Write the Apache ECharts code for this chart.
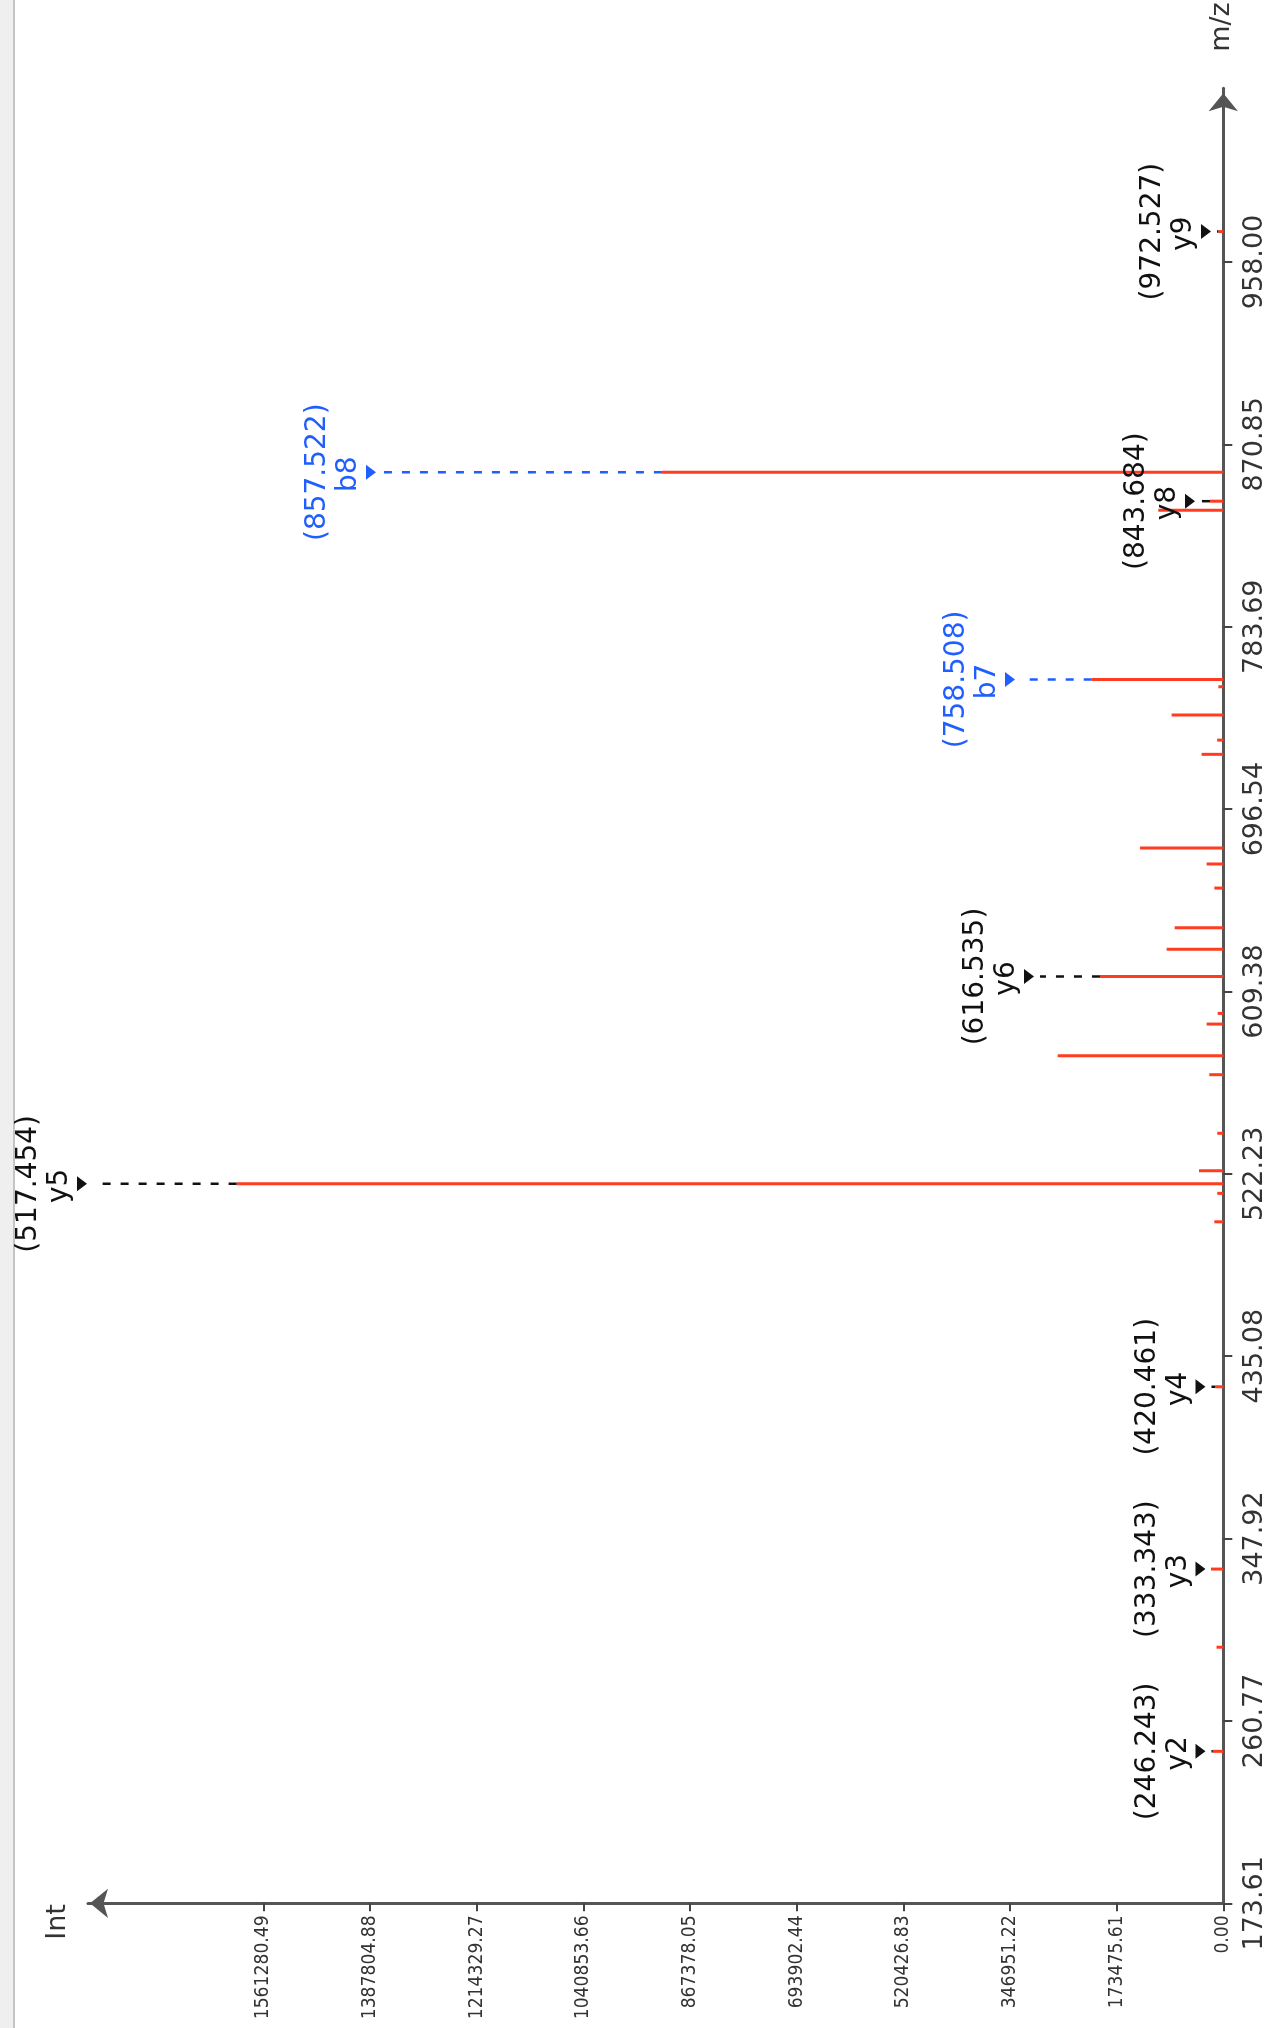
<!DOCTYPE html>
<html><head><meta charset="utf-8">
<script src="https://cdn.jsdelivr.net/npm/echarts@6/dist/echarts.min.js"></script>
<style>html,body{margin:0;padding:0;background:#fff}#c{width:1276px;height:2028px}</style>
</head><body><div id="c"></div>
<script>
// ---- data ----
const mzTickLabels = ['173.61','260.77','347.92','435.08','522.23','609.38','696.54','783.69','870.85','958.00'];
const intTickLabels = ['0.00','173475.61','346951.22','520426.83','693902.44','867378.05','1040853.66','1214329.27','1387804.88','1561280.49'];
const peakMz  = [246.243, 296.0, 333.343, 420.461, 499.3, 512.9, 517.454, 523.7, 541.6, 569.6, 578.7, 593.8, 598.9, 616.535, 629.5, 639.8, 658.8, 670.3, 677.9, 722.7, 729.5, 741.5, 755.0, 758.508, 839.3, 843.684, 857.522, 972.527];
const peakInt = [17000, 11000, 20000, 13000, 14600, 9800, 1604700, 39500, 9800, 22800, 269300, 27100, 9200, 200600, 92100, 79100, 14600, 27100, 135500, 35300, 10000, 84000, 8000, 214000, 105700, 21700, 913000, 8000];
const ionNames = ['y2','y3','y4','y5','y6','b7','y8','b8','y9'];
const ionMz    = [246.243, 333.343, 420.461, 517.454, 616.535, 758.508, 843.684, 857.522, 972.527];
const ionMarkerInt = [29000, 29000, 29000, 1848000, 307900, 338800, 46000, 1378000, 20000];
const mzMin = 173.61, mzMax = 1041;
const intMin = 0, intMax = 1846400;

// ---- styles ----
const RED = '#ff3c1f', BLUE = '#1f5eff', BLACK = '#111';
const LABEL_FAM = "'DejaVu Sans', sans-serif";
function fitSize(family, text, width) {
  const ctx = document.createElement('canvas').getContext('2d');
  ctx.font = '100px ' + family;
  return 100 * width / ctx.measureText(text).width;
}
const intFam = "'Liberation Sans Narrow','DejaVu Sans Condensed','Liberation Sans',sans-serif";
const intFontSize = Math.min(23, fitSize(intFam, '1561280.49', 104));

const mzTicks = mzTickLabels.map(Number);
const intTicks = intTickLabels.map(Number);
function lookup(vals, labels, v) {
  let bi = 0, bd = Infinity;
  vals.forEach((x, i) => { const d = Math.abs(x - v); if (d < bd) { bd = d; bi = i; } });
  return labels[bi];
}

const peakData = peakMz.map((m, i) => [peakInt[i], m]);
const ionData = ionMz.map((m, i) => {
  let pi = 0, bd = Infinity;
  peakMz.forEach((pm, j) => { const d = Math.abs(pm - m); if (d < bd) { bd = d; pi = j; } });
  return [ionMarkerInt[i], m, peakInt[pi]];
});

const chart = echarts.init(document.getElementById('c'), null, {renderer: 'canvas'});
chart.setOption({
  animation: false,
  backgroundColor: '#fff',
  grid: {left: 88, right: 52.7, top: 88.3, bottom: 124.7, containLabel: false, outerBoundsMode: 'none'},
  xAxis: {
    type: 'value', inverse: true, min: intMin, max: intMax, position: 'bottom',
    axisLine: {show: true, symbol: ['arrow', 'none'], symbolSize: [22, 18], symbolOffset: [2, 0],
      lineStyle: {color: '#555', width: 3}},
    axisTick: {show: true, customValues: intTicks, length: 8, lineStyle: {color: '#444', width: 2}},
    axisLabel: {customValues: intTicks, rotate: 90, margin: 12, color: '#333',
      fontSize: intFontSize, fontFamily: intFam,
      formatter: v => lookup(intTicks, intTickLabels, v)},
    splitLine: {show: false}
  },
  yAxis: {
    type: 'value', position: 'right', min: mzMin, max: mzMax,
    axisLine: {show: true, symbol: ['none', 'arrow'], symbolSize: [22, 18], symbolOffset: [0, -5],
      lineStyle: {color: '#555', width: 3}},
    axisTick: {show: true, customValues: mzTicks, length: 9, lineStyle: {color: '#444', width: 2}},
    axisLabel: {customValues: mzTicks, rotate: 90, margin: 18, color: '#333',
      fontSize: 27, fontFamily: LABEL_FAM,
      formatter: v => lookup(mzTicks, mzTickLabels, v)},
    splitLine: {show: false}
  },
  graphic: [
    {type: 'rect', left: 0, top: 0, shape: {width: 14, height: 2028}, style: {fill: '#efefef'}, z: 0},
    {type: 'rect', left: 13, top: 0, shape: {width: 2, height: 2028}, style: {fill: '#c4c4c4'}, z: 0},
    {type: 'text', x: 1222, y: 27, rotation: Math.PI / 2,
      style: {text: 'm/z', fill: '#333', fontSize: 27, fontFamily: LABEL_FAM, align: 'center', verticalAlign: 'middle'}},
    {type: 'text', x: 58, y: 1922, rotation: Math.PI / 2,
      style: {text: 'Int', fill: '#333', fontSize: 27, fontFamily: LABEL_FAM, align: 'center', verticalAlign: 'middle'}}
  ],
  series: [
    {
      type: 'custom', name: 'peaks', data: peakData, clip: false, z: 3,
      encode: {x: 0, y: 1},
      renderItem: (params, api) => {
        const it = api.value(0), mz = api.value(1);
        const p0 = api.coord([0, mz]);
        const p1 = api.coord([it, mz]);
        return {type: 'line', shape: {x1: p0[0], y1: p0[1], x2: p1[0], y2: p1[1]},
          style: {stroke: RED, lineWidth: 3}};
      }
    },
    {
      type: 'custom', name: 'ions', data: ionData, clip: false, z: 4,
      encode: {x: 0, y: 1},
      renderItem: (params, api) => {
        const mz = api.value(1);
        const tip = api.coord([api.value(0), mz]);
        const pk = api.coord([api.value(2), mz]);
        const name = ionNames[params.dataIndex];
        const col = name[0] === 'b' ? BLUE : BLACK;
        const children = [];
        if (pk[0] > tip[0] + 6) {
          children.push({type: 'line', shape: {x1: pk[0], y1: pk[1], x2: tip[0] + 6, y2: tip[1]},
            style: {stroke: col, lineWidth: 2.5, lineDash: [8, 10]}});
        }
        children.push({type: 'polygon',
          shape: {points: [[tip[0], tip[1]], [tip[0] - 10, tip[1] - 7.5], [tip[0] - 10, tip[1] + 7.5]]},
          style: {fill: col}});
        children.push({type: 'text', x: tip[0] - 27, y: tip[1] + 2, rotation: Math.PI / 2,
          style: {text: name, fill: col, fontSize: 28, fontFamily: LABEL_FAM, align: 'center', verticalAlign: 'middle'}});
        children.push({type: 'text', x: tip[0] - 58, y: tip[1], rotation: Math.PI / 2,
          style: {text: '(' + mz.toFixed(3) + ')', fill: col, fontSize: 28, fontFamily: LABEL_FAM, align: 'center', verticalAlign: 'middle'}});
        return {type: 'group', children};
      }
    }
  ]
});
</script>
</body></html>
